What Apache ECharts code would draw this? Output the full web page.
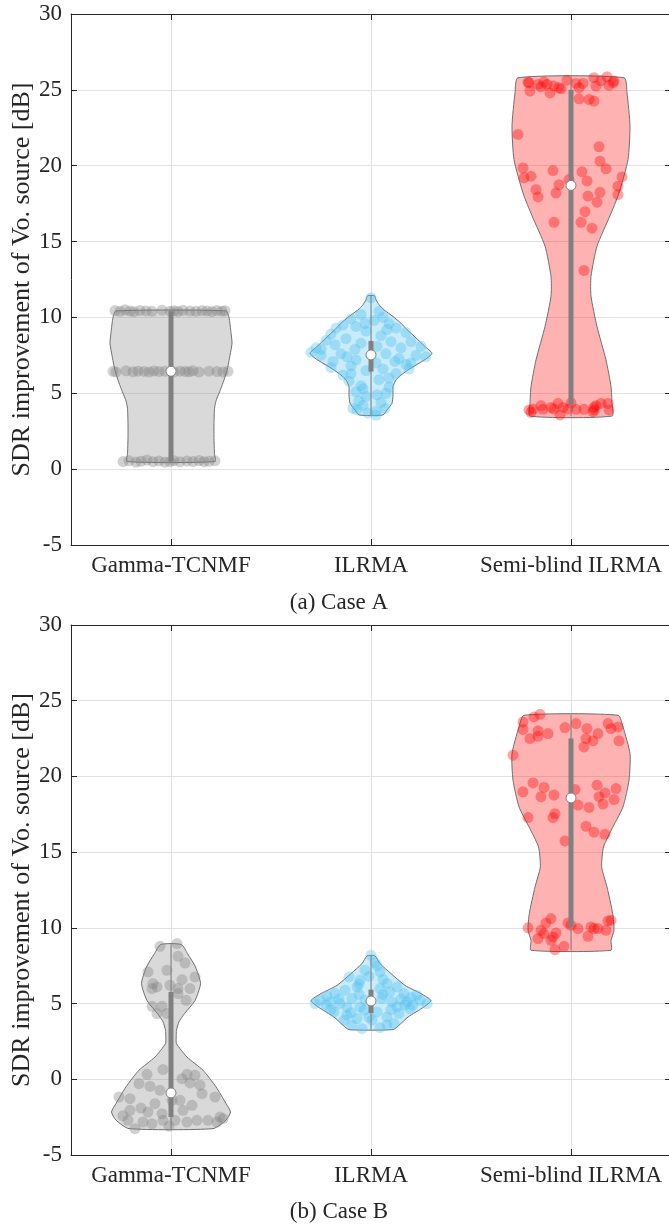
<!DOCTYPE html>
<html><head><meta charset="utf-8">
<script src="https://cdn.jsdelivr.net/npm/echarts@6/dist/echarts.min.js"></script>
<style>html,body{margin:0;padding:0;background:#fff}#c{width:669px;height:1224px}</style>
</head><body><div id="c"></div>
<script>
// ---------- data ----------
const categories = ['Gamma-TCNMF', 'ILRMA', 'Semi-blind ILRMA'];
const yMin = -5, yMax = 30, yStep = 5;
const yAxisTitle = 'SDR improvement of Vo. source [dB]';
const captions = ['(a) Case A', '(b) Case B'];
const groupColors = [[128,128,128], [77,190,238], [255,0,0]];

// jittered points: [offset in % of category spacing, value in dB]
const caseA_gamma = [
 [-28,10.45],[-25.5,10.4],[-23,10.5],[-20.5,10.42],[-18.5,10.38],[-15.5,10.46],[-12.5,10.43],[-9.5,10.4],[-4.5,10.48],[-0.5,10.41],[1.5,10.44],[3.5,10.39],[6,10.47],[9.5,10.42],[12.5,10.4],[15.5,10.45],[18,10.43],[20.5,10.38],[23,10.46],[25.5,10.41],[27,10.44],
 [-29,6.45],[-27.5,6.4],[-22.5,6.48],[-19,6.42],[-16.5,6.46],[-13.5,6.44],[-11,6.4],[-8.5,6.47],[-6,6.43],[-3,6.45],[1.5,6.41],[4.5,6.46],[7,6.44],[9,6.42],[11,6.48],[14,6.4],[19,6.46],[23,6.43],[26,6.41],[28.5,6.45],
 [-24,0.5],[-21,0.55],[-17.5,0.47],[-15,0.52],[-12,0.6],[-9,0.49],[-6,0.54],[-3,0.46],[-0.5,0.5],[1.5,0.56],[4.5,0.48],[8,0.53],[11,0.5],[14,0.57],[16.5,0.49],[19,0.52],[22,0.55]
];
const caseA_ilrma = [
 [0,11.3],[-5,10.2],[4,10.4],[6,10.0],[-10,9.9],[1.5,9.8],[9,9.6],[-14,9.5],[-17.5,9.3],[-7.5,9.4],[12.5,9.3],[17.5,9.0],[-20,8.9],[-2.5,9.1],[5,8.8],
 [-22.5,8.5],[-12.5,8.6],[-5,8.3],[10,8.4],[20,8.4],[25,8.1],[-27.5,8.0],[15,8.0],[-30,7.7],[-25,7.5],[-15,7.6],[-7.5,7.2],[7.5,7.6],[14,7.3],[22.5,7.5],[27.5,7.4],
 [-19,7.1],[2.5,7.0],[17.5,6.9],[-20,6.7],[-10,6.8],[-2.5,6.5],[6,6.6],[12.5,6.3],[-14,6.2],[19,6.6],[-11,5.8],[-5,5.5],[4,5.9],[9,5.4],[-7.5,5.1],[7.5,5.0],
 [-2.5,4.8],[-6,4.5],[-4,4.2],[5,4.4],[-9,4.0],[2.5,3.8],[-1.5,3.7],[2.5,3.55],
 [-25,7.9],[-18,8.2],[-8,7.9],[3,8.1],[12,7.1],[20,7.0],[-12,7.4],[-3,9.6],[8,9.2],[-10,6.3],[9,6.0],[-4,5.3],[3,4.9],[-7,3.9],[7,4.0]
];
const caseA_semi = [
 [-21,25.47],[-16.5,25.36],[-13.5,25.51],[-12,25.36],[-10.5,24.8],[-6,25.14],[-5,25.07],[-2,25.64],[2.5,25.42],[4,25.14],[6,25.42],[11.5,25.8],[12.5,25.25],[18,25.86],[19,25.29],[21,25.47],[-20.5,24.92],[4,24.41],[9,24.37],[11.5,24.26],[-21.5,25.5],[-8.5,25.25],[21.5,25.58],[-15,25.2],[15,25.6],
 [-26.5,22.06],[14,21.25],[14.5,20.3],[17.5,19.8],[-24,19.85],[-23.5,19.2],[-20,19.3],[-9,19.68],[5.5,19.6],[8,19.0],[25.5,19.26],[23.5,18.65],[23.5,18.1],[-17.5,18.43],[-16.5,17.94],[-6,18.75],[-7.5,18.2],[-1,19.09],[8.5,18.0],[14.5,18.25],[13,17.6],[7,16.97],[5,16.27],[-8.5,16.27],[10.5,15.88],[6.5,13.1],
 [-21,3.9],[-19,3.96],[-15,4.18],[-14,3.94],[-10,4.07],[-6.5,4.33],[-5.5,3.57],[-4,4.07],[-1.5,3.96],[0,4.37],[2.5,3.94],[6.5,3.94],[11.5,4.07],[11.5,3.9],[12.5,4.18],[15,4.33],[18.5,4.33],[19,3.9],[-20,3.75],[-8.5,3.96],[11,3.79]
];
const caseB_gamma = [
 [-5.5,8.78],[3,8.96],[3.5,8.12],[7,7.68],[-11.5,7.09],[-2,7.2],[5.5,6.58],[12,6.76],[-9,6.32],[-7,6.1],[-9.5,5.99],[-0.5,6.21],[3.5,5.99],[9.5,5.99],[3.5,5.66],[7.5,5.22],[-9.5,4.82],[-4.5,4.82],[-7,4.34],[-2,4.34],
 [-12,0.33],[-4,0.64],[8,0.33],[12,0.26],[-16,-0.29],[-10.5,-0.46],[-5.5,-0.73],[5.5,0.04],[9.5,-0.24],[14.5,-0.39],[15.5,-0.95],[-26,-1.17],[-20.5,-1.28],[-8,-1.61],[0.5,-1.39],[4.5,-1.39],[10.5,-1.72],[22,-1.17],
 [-20.5,-2.05],[-11.5,-2.16],[-4.5,-2.27],[6,-2.05],[24.5,-2.49],[-21.5,-2.71],[-18,-3.26],[-14,-2.82],[-9.5,-2.93],[-4,-2.71],[2,-2.71],[8,-2.82],[13,-2.71],[18.5,-2.71],[23,-2.82],[26,-2.6],[-15,-1.9],[-24,-2.4],[-1,-3.1]
];
const caseB_ilrma = [
 [0,8.19],[-3,7.2],[4.5,7.09],[-11,6.76],[-5.5,6.54],[8,6.32],[13,6.1],[-18,5.66],[-13,5.88],[-7,6.1],[4.5,5.99],[9.5,5.77],[16.5,5.66],[23,5.55],
 [-25.5,5.22],[-28,5.0],[-20.5,5.11],[-15.5,5.0],[-9.5,5.33],[-5.5,4.78],[5.5,5.33],[10.5,5.11],[18,5.11],[24.5,5.22],[28,5.0],
 [-18.5,4.45],[-12,4.23],[-7,4.01],[-3.5,4.56],[3,4.45],[8,4.12],[14,4.34],[19.5,4.67],[-4.5,3.34],[4.5,3.41],[-9.5,3.57],[11.5,3.68],[-13.5,3.9],[0.5,3.9],
 [-3,5.22],[-12,4.78],[13,4.78],[-22.5,4.9],[20,5.4],[-1,6.8],[3,7.5],
 [-22,5.5],[-16,5.3],[-6,5.6],[6,5.6],[15,5.3],[21,4.9],[-20,4.6],[-10,4.4],[10,4.6],[17,4.9],[-1,4.1],[8,3.6],[-6,6.3],[6,6.6],[2,7.7]
];
const caseB_semi = [
 [-24,23.6],[-18.5,23.93],[-15.5,24.1],[-24,23.1],[-16.5,23.01],[-20.5,22.5],[-16.5,22.65],[-11.5,22.83],[-3,23.23],[2.5,23.49],[8,23.16],[13.5,22.83],[7.5,22.5],[11,22.35],[6.5,21.95],[18.5,23.49],[20,23.16],[23.5,23.27],[24,22.35],[-29,21.4],
 [-19,19.57],[-24,18.98],[-13.5,19.27],[-15,18.66],[-8.5,18.77],[2,19.13],[13,19.42],[17,18.91],[22.5,19.2],[21.5,18.47],[14,18.66],[16,18.18],[3.5,18.11],[9,17.95],[-8,17.54],[-9,17.28],[-21.5,17.28],[7.5,16.71],[11.5,16.32],[17,16.18],[-3,15.74],
 [-10,10.61],[-12.5,10.32],[-21.5,10.0],[-15,9.84],[-13.5,9.62],[-16.5,9.29],[-10,9.18],[-7.5,9.66],[-8,8.56],[-3.5,8.78],[-1.5,10.32],[0,10.17],[3.5,9.95],[8.5,9.44],[10,10.06],[11.5,9.95],[13.5,9.95],[17.5,9.84],[18.5,10.46],[20,10.5],[-9,9.4]
];

// violin outlines: [value, half width in % of category spacing]
const caseA_gamma_violin = [[10.43,27.5],[10,29],[9,30],[8.3,30.5],[7.5,29.5],[6.5,28],[5.5,25.5],[5,24],[4.5,22.5],[4,21.75],[3,21.5],[2,21.5],[1,21.75],[0.5,22]];
const caseA_ilrma_violin = [[11.43,1.7],[11.17,2.5],[10.84,4],[10.5,6.5],[10.06,11],[9.62,15],[9.2,18],[8.65,22.5],[8.08,27],[7.64,30.5],[7.31,28],[6.98,24],[6.58,19],[6.2,15],[5.88,12.5],[5.44,11],[4.89,11],[4.34,10.5],[3.9,8],[3.57,6]];
const caseA_semi_violin = [[25.8,26.5],[24.8,28],[22.6,29.5],[20.4,28.5],[18.2,24],[16.7,19.5],[14.7,13],[12.7,10],[11.4,10],[9.4,13],[7.2,17.5],[5.44,20],[4.34,20.5],[3.5,20.5]];
const caseB_gamma_violin = [[8.9,5.2],[8.3,8.25],[7.42,12.25],[6.32,14.75],[5.2,12],[4.34,6.75],[3.8,4],[3.24,2.75],[2.8,2.6],[2.36,2.75],[1.47,8],[0.6,16],[-0.5,22.5],[-1.6,27.5],[-2.16,29.75],[-2.7,27.5],[-3.26,21]];
const caseB_ilrma_violin = [[8.15,2],[7.64,4.5],[6.98,10],[6.2,17],[5.66,25],[5.2,30],[4.78,26.5],[4.11,18.5],[3.57,14],[3.28,11]];
const caseB_semi_violin = [[24.04,23.5],[23.27,26],[21.5,29.5],[19.75,29],[17.99,26],[16.67,21],[15.34,16.25],[14.02,15.35],[12.7,18],[10.94,20.85],[9.84,21.5],[9.18,20],[8.52,20]];

// box statistics per group: [whisker low, q1, median, q3, whisker high]
const caseA_stats = [[0.5,0.5,6.45,10.4,10.43],[3.57,6.43,7.53,8.45,11.43],[3.5,4.26,18.7,25.0,25.8]];
const caseB_stats = [[-3.26,-2.49,-0.9,5.77,8.9],[3.28,4.38,5.17,5.92,8.15],[8.52,10.06,18.58,22.5,24.04]];

// ---------- chart ----------
const FONT = '"Liberation Serif", "Times New Roman", serif';
const TXT = '#262626';
const displayCats = ['', categories[0], '', categories[1], '', categories[2], ''];
const cases = [
  {points:[caseA_gamma, caseA_ilrma, caseA_semi], violins:[caseA_gamma_violin, caseA_ilrma_violin, caseA_semi_violin], stats: caseA_stats},
  {points:[caseB_gamma, caseB_ilrma, caseB_semi], violins:[caseB_gamma_violin, caseB_ilrma_violin, caseB_semi_violin], stats: caseB_stats}
];
const gridBoxes = [{left:71, top:14, width:600, height:531}, {left:71, top:625, width:600, height:530}];
const captionPos = [[339, 603], [339, 1212]];
const rgba = (c,a) => `rgba(${c[0]},${c[1]},${c[2]},${a})`;
const odd = i => i % 2 === 1;

const grid = [], xAxis = [], yAxis = [], series = [];
gridBoxes.forEach((b, k) => {
  grid.push(Object.assign({containLabel:false, outerBoundsMode:'none'}, b));
  xAxis.push({type:'category', gridIndex:k, data:displayCats, boundaryGap:false, position:'bottom',
    axisLine:{show:true, onZero:false, lineStyle:{color:TXT, width:1}},
    axisTick:{show:true, inside:true, length:6, interval:odd, lineStyle:{color:TXT}},
    axisLabel:{show:true, interval:0, margin:9, fontFamily:FONT, fontSize:23, color:TXT},
    splitLine:{show:true, interval:odd, lineStyle:{color:'#e2e2e2', width:1}}});
  xAxis.push({type:'category', gridIndex:k, data:displayCats, boundaryGap:false, position:'top',
    axisLine:{show:true, onZero:false, lineStyle:{color:TXT, width:1}},
    axisTick:{show:true, inside:true, length:6, interval:odd, lineStyle:{color:TXT}},
    axisLabel:{show:false}, splitLine:{show:false}});
  xAxis.push({type:'value', gridIndex:k, min:0, max:6, show:false});
  yAxis.push({type:'value', gridIndex:k, min:yMin, max:yMax, interval:yStep, position:'left',
    name:yAxisTitle, nameLocation:'middle', nameGap:36, nameMoveOverlap:false,
    nameTextStyle:{fontFamily:FONT, fontSize:26, color:TXT},
    axisLine:{show:true, onZero:false, lineStyle:{color:TXT, width:1}},
    axisTick:{show:true, inside:true, length:6, lineStyle:{color:TXT}},
    axisLabel:{margin:9, fontFamily:FONT, fontSize:23, color:TXT},
    splitLine:{show:true, lineStyle:{color:'#e2e2e2', width:1}}});
  yAxis.push({type:'value', gridIndex:k, min:yMin, max:yMax, interval:yStep, position:'right',
    axisLine:{show:true, onZero:false, lineStyle:{color:TXT, width:1}},
    axisTick:{show:true, inside:true, length:6, lineStyle:{color:TXT}},
    axisLabel:{show:false}, splitLine:{show:false}});

  const xi = k*3 + 2, yi = k*2;
  const cs = cases[k];
  series.push({type:'custom', xAxisIndex:xi, yAxisIndex:yi, clip:false, z:2, silent:true,
    data: [0,1,2].map(g => [g, 0]),
    renderItem: (params, api) => {
      const g = api.value(0);
      const prof = cs.violins[g];
      const cx = 1 + 2*g;
      const right = prof.map(p => api.coord([cx + p[1]/50, p[0]]));
      const left = prof.slice().reverse().map(p => api.coord([cx - p[1]/50, p[0]]));
      return {type:'polygon', shape:{points: right.concat(left), smooth:0.2},
        style:{fill: rgba(groupColors[g], 0.3), stroke:'#6f6f6f', lineWidth:1}};
    }});
  cs.points.forEach((pts, g) => {
    series.push({type:'scatter', xAxisIndex:xi, yAxisIndex:yi, z:3, silent:true,
      symbolSize:11, itemStyle:{color: rgba(groupColors[g], 0.45)},
      data: pts.map(p => [1 + 2*g + p[0]/50, p[1]])});
  });
  series.push({type:'custom', xAxisIndex:xi, yAxisIndex:yi, clip:false, z:4, silent:true,
    data: cs.stats.map((s, g) => [g, s[0], s[1], s[2], s[3], s[4]]),
    renderItem: (params, api) => {
      const g = api.value(0), cx = 1 + 2*g;
      const lo = api.coord([cx, api.value(1)]), q1 = api.coord([cx, api.value(2)]),
            md = api.coord([cx, api.value(3)]), q3 = api.coord([cx, api.value(4)]),
            hi = api.coord([cx, api.value(5)]);
      return {type:'group', children:[
        {type:'line', shape:{x1:lo[0], y1:lo[1], x2:hi[0], y2:hi[1]}, style:{stroke:'#808080', lineWidth:1}},
        {type:'rect', shape:{x:q3[0]-2.5, y:q3[1], width:5, height:q1[1]-q3[1]}, style:{fill:'#808080'}},
        {type:'circle', shape:{cx:md[0], cy:md[1], r:5}, style:{fill:'#ffffff', stroke:'#808080', lineWidth:1}}
      ]};
    }});
});

const chart = echarts.init(document.getElementById('c'), null, {renderer:'canvas'});
chart.setOption({
  animation:false, backgroundColor:'#ffffff',
  grid, xAxis, yAxis, series,
  graphic: captions.map((t, i) => ({type:'text', x:captionPos[i][0], y:captionPos[i][1],
    style:{text:t, align:'center', verticalAlign:'middle', fontFamily:FONT, fontSize:23, fill:TXT}}))
});
</script></body></html>
